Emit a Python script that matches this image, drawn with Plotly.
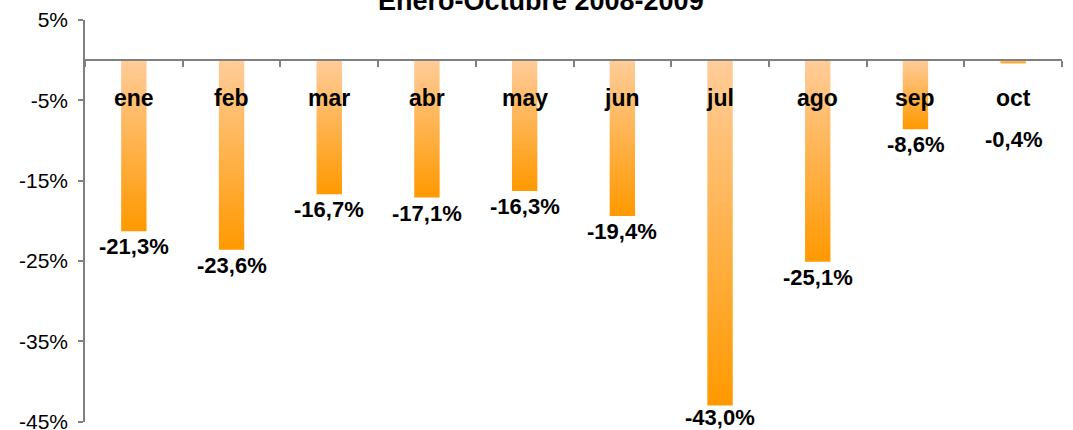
import plotly.graph_objects as go

months = ["ene", "feb", "mar", "abr", "may", "jun", "jul", "ago", "sep", "oct"]
values = [-21.3, -23.6, -16.7, -17.1, -16.3, -19.4, -43.0, -25.1, -8.6, -0.4]
value_text = ["-21,3%", "-23,6%", "-16,7%", "-17,1%", "-16,3%", "-19,4%", "-43,0%", "-25,1%", "-8,6%", "-0,4%"]
y_ticks = [5, -5, -15, -25, -35, -45]
y_ticktext = ["5%", "-5%", "-15%", "-25%", "-35%", "-45%"]
title_text = "Enero-Octubre 2008-2009"

FONT = "Liberation Sans, Arial, Helvetica, sans-serif"
HALF = 0.13
Y_RANGE = [-45.05, 5.0]
# label placement tweaks (in axis units): oct sits lower, jul is tucked up against the chart bottom
label_nudge = {"oct": -7.6, "jul": 0.45}

fig = go.Figure()
for i, (m, v) in enumerate(zip(months, values)):
    fig.add_trace(go.Scatter(
        x=[i - HALF, i + HALF, i + HALF, i - HALF, i - HALF],
        y=[0, 0, v, v, 0],
        mode="lines", line=dict(width=0), fill="toself",
        fillgradient=dict(type="vertical",
                          colorscale=[[0, "#FF9900"], [1, "#FFCC99"]]),
        hoverinfo="skip", showlegend=False,
    ))

annotations = []
for i, (m, v, t) in enumerate(zip(months, values, value_text)):
    annotations.append(dict(x=i, y=-4.7, xref="x", yref="y", text=f"<b>{m}</b>",
                            showarrow=False, yanchor="middle",
                            font=dict(family=FONT, size=23, color="black")))
    annotations.append(dict(x=i, y=v + label_nudge.get(m, 0), xref="x", yref="y",
                            text=f"<b>{t}</b>", showarrow=False, yanchor="top", yshift=-1,
                            font=dict(family=FONT, size=22, color="black")))
annotations.append(dict(x=0.467, y=1, xref="paper", yref="paper", text=f"<b>{title_text}</b>",
                        showarrow=False, yanchor="bottom", yshift=2,
                        font=dict(family=FONT, size=27, color="black")))

zero_pos = (0 - Y_RANGE[0]) / (Y_RANGE[1] - Y_RANGE[0])

fig.update_layout(
    width=1073, height=430,
    margin=dict(l=85, r=11, t=20, b=8),
    paper_bgcolor="white", plot_bgcolor="white",
    annotations=annotations,
    xaxis=dict(range=[-0.5, 9.5], anchor="free", position=zero_pos, automargin=False,
               showline=True, linecolor="#808080", linewidth=1.5,
               ticks="outside", ticklen=6, tickcolor="#808080", tickwidth=1.5,
               tickvals=[k - 0.5 for k in range(len(months) + 1)],
               showticklabels=False, showgrid=False, zeroline=False, fixedrange=True),
    yaxis=dict(range=Y_RANGE, tickvals=y_ticks, ticktext=y_ticktext, automargin=False,
               ticklabeloverflow="allow",
               showline=True, linecolor="#808080", linewidth=1.5,
               ticks="outside", ticklen=5, tickcolor="#808080", tickwidth=1.5,
               ticklabelstandoff=6,
               tickfont=dict(family=FONT, size=21, color="black"),
               showgrid=False, zeroline=False, fixedrange=True),
)

fig.write_html("out.html", config={"displayModeBar": False},
               post_script="document.body.style.margin='0';document.body.style.overflow='hidden';")
